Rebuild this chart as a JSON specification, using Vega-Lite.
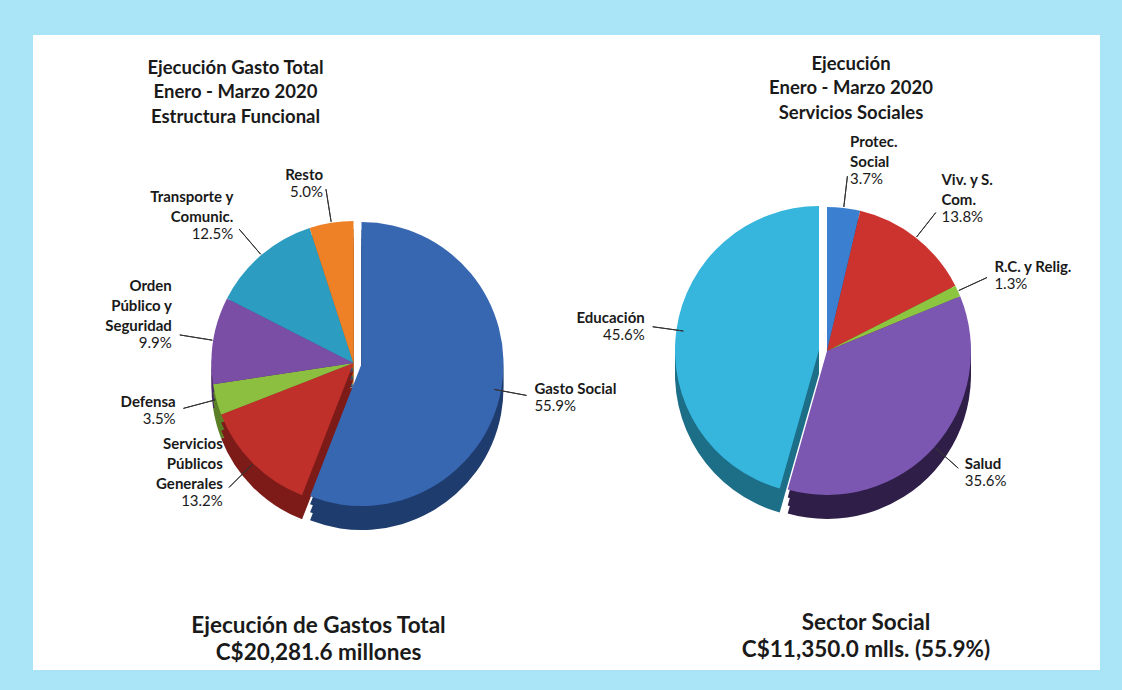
{
  "$schema": "https://vega.github.io/schema/vega-lite/v6.json",
  "padding": {"left": 33, "top": 35, "right": 24, "bottom": 22},
  "spacing": 0,
  "columns": 2,
  "bounds": "flush",
  "align": "each",
  "config": {"background": "#aae4f7", "view": {"fill": "#ffffff", "stroke": "#ffffff", "strokeWidth": 2}, "font": "Lato"},
  "resolve": {"scale": {"color": "independent", "fill": "independent", "theta": "independent"}},
  "datasets": {
    "fun": [
      {"cat": "Gasto Social", "ord": 1, "pct": 55.9, "name": "Gasto Social", "pv": "55.9%"},
      {"cat": "Servicios Públicos Generales", "ord": 2, "pct": 13.2, "name": "Servicios\nPúblicos\nGenerales", "pv": "13.2%"},
      {"cat": "Defensa", "ord": 3, "pct": 3.5, "name": "Defensa", "pv": "3.5%"},
      {"cat": "Orden Público y Seguridad", "ord": 4, "pct": 9.9, "name": "Orden\nPúblico y\nSeguridad", "pv": "9.9%"},
      {"cat": "Transporte y Comunic.", "ord": 5, "pct": 12.5, "name": "Transporte y\nComunic.", "pv": "12.5%"},
      {"cat": "Resto", "ord": 6, "pct": 5.0, "name": "Resto", "pv": "5.0%"}
    ],
    "soc": [
      {"cat": "Protec. Social", "ord": 1, "pct": 3.7, "name": "Protec.\nSocial", "pv": "3.7%"},
      {"cat": "Viv. y S. Com.", "ord": 2, "pct": 13.8, "name": "Viv. y S.\nCom.", "pv": "13.8%"},
      {"cat": "R.C. y Relig.", "ord": 3, "pct": 1.3, "name": "R.C. y Relig.", "pv": "1.3%"},
      {"cat": "Salud", "ord": 4, "pct": 35.6, "name": "Salud", "pv": "35.6%"},
      {"cat": "Educación", "ord": 5, "pct": 45.6, "name": "Educación", "pv": "45.6%"}
    ]
  },
  "concat": [
    {
      "width": 587,
      "height": 560,
      "view": {"fill": "#ffffff", "stroke": "#ffffff", "strokeWidth": 2},
      "data": {"name": "fun"},
      "title": {"text": ["Ejecución Gasto Total", "Enero - Marzo 2020", "Estructura Funcional"], "orient": "top", "anchor": "middle", "frame": "group", "offset": -90, "dx": -92, "font": "Lato", "fontSize": 18.5, "lineHeight": 24.5, "fontWeight": "bold", "color": "#1a1a1a"},
      "transform": [{"stack": "pct", "groupby": [], "sort": [{"field": "ord", "order": "ascending"}], "as": ["t0", "t1"]}],
      "encoding": {
        "theta": {"field": "t0", "type": "quantitative", "scale": {"domain": [0, 100]}},
        "theta2": {"field": "t1"}
      },
      "layer": [
        {"transform": [{"filter": "datum.cat !== 'Gasto Social'"}], "mark": {"type": "arc", "outerRadius": 142, "xOffset": 26, "yOffset": 71},
         "encoding": {"fill": {"field": "cat", "type": "nominal", "legend": null, "scale": {"domain": ["Gasto Social", "Servicios Públicos Generales", "Defensa", "Orden Público y Seguridad", "Transporte y Comunic.", "Resto"], "range": ["#1f3c6e", "#7c1b18", "#5b7f25", "#4a2b68", "#1b6682", "#ac5610"]}}}},
        {"transform": [{"filter": "datum.cat !== 'Gasto Social'"}], "mark": {"type": "arc", "outerRadius": 142, "xOffset": 26, "yOffset": 63},
         "encoding": {"fill": {"field": "cat", "type": "nominal", "legend": null}}},
        {"transform": [{"filter": "datum.cat !== 'Gasto Social'"}], "mark": {"type": "arc", "outerRadius": 142, "xOffset": 26, "yOffset": 55},
         "encoding": {"fill": {"field": "cat", "type": "nominal", "legend": null}}},
        {"transform": [{"filter": "datum.cat === 'Gasto Social'"}], "mark": {"type": "arc", "outerRadius": 142, "xOffset": 34, "yOffset": 72},
         "encoding": {"fill": {"field": "cat", "type": "nominal", "legend": null}}},
        {"transform": [{"filter": "datum.cat === 'Gasto Social'"}], "mark": {"type": "arc", "outerRadius": 142, "xOffset": 34, "yOffset": 64},
         "encoding": {"fill": {"field": "cat", "type": "nominal", "legend": null}}},
        {"transform": [{"filter": "datum.cat === 'Gasto Social'"}], "mark": {"type": "arc", "outerRadius": 142, "xOffset": 34, "yOffset": 56},
         "encoding": {"fill": {"field": "cat", "type": "nominal", "legend": null}}},
        {"transform": [{"filter": "datum.cat !== 'Gasto Social'"}], "mark": {"type": "arc", "outerRadius": 142, "xOffset": 26, "yOffset": 47},
         "encoding": {"color": {"field": "cat", "type": "nominal", "legend": null, "scale": {"domain": ["Gasto Social", "Servicios Públicos Generales", "Defensa", "Orden Público y Seguridad", "Transporte y Comunic.", "Resto"], "range": ["#3867b2", "#bf302b", "#8cbf3f", "#7a4ea4", "#2c9cc1", "#ee8126"]}}}},
        {"transform": [{"filter": "datum.cat === 'Gasto Social'"}], "mark": {"type": "arc", "outerRadius": 142, "xOffset": 34, "yOffset": 48},
         "encoding": {"color": {"field": "cat", "type": "nominal", "legend": null}}},
        {
          "transform": [{"fold": ["t0", "t1"], "as": ["k", "v"]}, {"aggregate": [{"op": "mean", "field": "v", "as": "mid"}], "groupby": ["cat", "name", "pv"]}],
          "layer": [
            {"mark": {"type": "arc", "innerRadius": 143, "outerRadius": 176, "stroke": "#333333", "strokeWidth": 1, "fill": null, "xOffset": 26, "yOffset": 47},
             "encoding": {"theta": {"field": "mid", "type": "quantitative", "scale": {"domain": [0, 100]}}, "theta2": {"field": "mid"}}},
            {"transform": [{"filter": "datum.mid < 50"}], "mark": {"type": "text", "radius": 182, "align": "left", "baseline": "bottom", "dx": 2, "dy": {"expr": "-(length(split(datum.name, '\\n')) - 1) * 20"}, "xOffset": 26, "yOffset": 47, "font": "Lato", "fontSize": 15, "fontWeight": "bold", "lineBreak": "\n", "lineHeight": 20, "color": "#1a1a1a"},
             "encoding": {"theta": {"field": "mid", "type": "quantitative", "scale": {"domain": [0, 100]}}, "theta2": null, "text": {"field": "name"}}},
            {"transform": [{"filter": "datum.mid < 50"}], "mark": {"type": "text", "radius": 182, "align": "left", "baseline": "top", "dx": 2, "dy": 2, "xOffset": 26, "yOffset": 47, "font": "Lato", "fontSize": 15, "lineHeight": 20, "color": "#1a1a1a"},
             "encoding": {"theta": {"field": "mid", "type": "quantitative", "scale": {"domain": [0, 100]}}, "theta2": null, "text": {"field": "pv"}}},
            {"transform": [{"filter": "datum.mid >= 50"}], "mark": {"type": "text", "radius": 182, "align": "right", "baseline": "bottom", "dx": -2, "dy": {"expr": "-(length(split(datum.name, '\\n')) - 1) * 20"}, "xOffset": 26, "yOffset": 47, "font": "Lato", "fontSize": 15, "fontWeight": "bold", "lineBreak": "\n", "lineHeight": 20, "color": "#1a1a1a"},
             "encoding": {"theta": {"field": "mid", "type": "quantitative", "scale": {"domain": [0, 100]}}, "theta2": null, "text": {"field": "name"}}},
            {"transform": [{"filter": "datum.mid >= 50"}], "mark": {"type": "text", "radius": 182, "align": "right", "baseline": "top", "dx": -2, "dy": 2, "xOffset": 26, "yOffset": 47, "font": "Lato", "fontSize": 15, "lineHeight": 20, "color": "#1a1a1a"},
             "encoding": {"theta": {"field": "mid", "type": "quantitative", "scale": {"domain": [0, 100]}}, "theta2": null, "text": {"field": "pv"}}}
          ]
        }
      ]
    },
    {
      "width": 478,
      "height": 560,
      "view": {"fill": "#ffffff", "stroke": "#ffffff", "strokeWidth": 2},
      "data": {"name": "soc"},
      "title": {"text": ["Ejecución", "Enero - Marzo 2020", "Servicios Sociales"], "orient": "top", "anchor": "middle", "frame": "group", "offset": -86, "dx": -9, "font": "Lato", "fontSize": 18.5, "lineHeight": 24.5, "fontWeight": "bold", "color": "#1a1a1a"},
      "transform": [{"stack": "pct", "groupby": [], "sort": [{"field": "ord", "order": "ascending"}], "as": ["t0", "t1"]}],
      "encoding": {
        "theta": {"field": "t0", "type": "quantitative", "scale": {"domain": [0, 100]}},
        "theta2": {"field": "t1"}
      },
      "layer": [
        {"transform": [{"filter": "datum.cat !== 'Educación'"}], "mark": {"type": "arc", "outerRadius": 144, "xOffset": -33, "yOffset": 59},
         "encoding": {"fill": {"field": "cat", "type": "nominal", "legend": null, "scale": {"domain": ["Protec. Social", "Viv. y S. Com.", "R.C. y Relig.", "Salud", "Educación"], "range": ["#224a7e", "#801e1b", "#577b27", "#2f1f48", "#1d6f88"]}}}},
        {"transform": [{"filter": "datum.cat !== 'Educación'"}], "mark": {"type": "arc", "outerRadius": 144, "xOffset": -33, "yOffset": 51},
         "encoding": {"fill": {"field": "cat", "type": "nominal", "legend": null}}},
        {"transform": [{"filter": "datum.cat !== 'Educación'"}], "mark": {"type": "arc", "outerRadius": 144, "xOffset": -33, "yOffset": 43},
         "encoding": {"fill": {"field": "cat", "type": "nominal", "legend": null}}},
        {"transform": [{"filter": "datum.cat === 'Educación'"}], "mark": {"type": "arc", "outerRadius": 144, "xOffset": -41, "yOffset": 58},
         "encoding": {"fill": {"field": "cat", "type": "nominal", "legend": null}}},
        {"transform": [{"filter": "datum.cat === 'Educación'"}], "mark": {"type": "arc", "outerRadius": 144, "xOffset": -41, "yOffset": 50},
         "encoding": {"fill": {"field": "cat", "type": "nominal", "legend": null}}},
        {"transform": [{"filter": "datum.cat === 'Educación'"}], "mark": {"type": "arc", "outerRadius": 144, "xOffset": -41, "yOffset": 42},
         "encoding": {"fill": {"field": "cat", "type": "nominal", "legend": null}}},
        {"transform": [{"filter": "datum.cat !== 'Educación'"}], "mark": {"type": "arc", "outerRadius": 144, "xOffset": -33, "yOffset": 35},
         "encoding": {"color": {"field": "cat", "type": "nominal", "legend": null, "scale": {"domain": ["Protec. Social", "Viv. y S. Com.", "R.C. y Relig.", "Salud", "Educación"], "range": ["#3b80d0", "#cc332e", "#8cc540", "#7c57b2", "#36b5dd"]}}}},
        {"transform": [{"filter": "datum.cat === 'Educación'"}], "mark": {"type": "arc", "outerRadius": 144, "xOffset": -41, "yOffset": 34},
         "encoding": {"color": {"field": "cat", "type": "nominal", "legend": null}}},
        {
          "transform": [{"fold": ["t0", "t1"], "as": ["k", "v"]}, {"aggregate": [{"op": "mean", "field": "v", "as": "mid"}], "groupby": ["cat", "name", "pv"]}],
          "layer": [
            {"mark": {"type": "arc", "innerRadius": 145, "outerRadius": 176, "stroke": "#333333", "strokeWidth": 1, "fill": null, "xOffset": -33, "yOffset": 35},
             "encoding": {"theta": {"field": "mid", "type": "quantitative", "scale": {"domain": [0, 100]}}, "theta2": {"field": "mid"}}},
            {"transform": [{"filter": "datum.mid < 50"}], "mark": {"type": "text", "radius": 182, "align": "left", "baseline": "bottom", "dx": 2, "dy": {"expr": "-(length(split(datum.name, '\\n')) - 1) * 20"}, "xOffset": -33, "yOffset": 35, "font": "Lato", "fontSize": 15, "fontWeight": "bold", "lineBreak": "\n", "lineHeight": 20, "color": "#1a1a1a"},
             "encoding": {"theta": {"field": "mid", "type": "quantitative", "scale": {"domain": [0, 100]}}, "theta2": null, "text": {"field": "name"}}},
            {"transform": [{"filter": "datum.mid < 50"}], "mark": {"type": "text", "radius": 182, "align": "left", "baseline": "top", "dx": 2, "dy": 2, "xOffset": -33, "yOffset": 35, "font": "Lato", "fontSize": 15, "lineHeight": 20, "color": "#1a1a1a"},
             "encoding": {"theta": {"field": "mid", "type": "quantitative", "scale": {"domain": [0, 100]}}, "theta2": null, "text": {"field": "pv"}}},
            {"transform": [{"filter": "datum.mid >= 50"}], "mark": {"type": "text", "radius": 182, "align": "right", "baseline": "bottom", "dx": -2, "dy": {"expr": "-(length(split(datum.name, '\\n')) - 1) * 20"}, "xOffset": -33, "yOffset": 35, "font": "Lato", "fontSize": 15, "fontWeight": "bold", "lineBreak": "\n", "lineHeight": 20, "color": "#1a1a1a"},
             "encoding": {"theta": {"field": "mid", "type": "quantitative", "scale": {"domain": [0, 100]}}, "theta2": null, "text": {"field": "name"}}},
            {"transform": [{"filter": "datum.mid >= 50"}], "mark": {"type": "text", "radius": 182, "align": "right", "baseline": "top", "dx": -2, "dy": 2, "xOffset": -33, "yOffset": 35, "font": "Lato", "fontSize": 15, "lineHeight": 20, "color": "#1a1a1a"},
             "encoding": {"theta": {"field": "mid", "type": "quantitative", "scale": {"domain": [0, 100]}}, "theta2": null, "text": {"field": "pv"}}}
          ]
        }
      ]
    },
    {
      "width": 587,
      "height": 73,
      "view": {"fill": "#ffffff", "stroke": "#ffffff", "strokeWidth": 2},
      "data": {"values": [{"caption": "Ejecución  de Gastos Total\nC$20,281.6 millones"}]},
      "mark": {"type": "text", "align": "center", "baseline": "middle", "dx": -9, "dy": -7, "font": "Lato", "fontSize": 22.5, "fontWeight": "bold", "lineBreak": "\n", "lineHeight": 27, "color": "#1a1a1a"},
      "encoding": {"text": {"field": "caption"}}
    },
    {
      "width": 478,
      "height": 73,
      "view": {"fill": "#ffffff", "stroke": "#ffffff", "strokeWidth": 2},
      "data": {"values": [{"caption": "Sector Social\nC$11,350.0 mlls. (55.9%)"}]},
      "mark": {"type": "text", "align": "center", "baseline": "middle", "dx": 6, "dy": -10, "font": "Lato", "fontSize": 22.5, "fontWeight": "bold", "lineBreak": "\n", "lineHeight": 27, "color": "#1a1a1a"},
      "encoding": {"text": {"field": "caption"}}
    }
  ]
}
